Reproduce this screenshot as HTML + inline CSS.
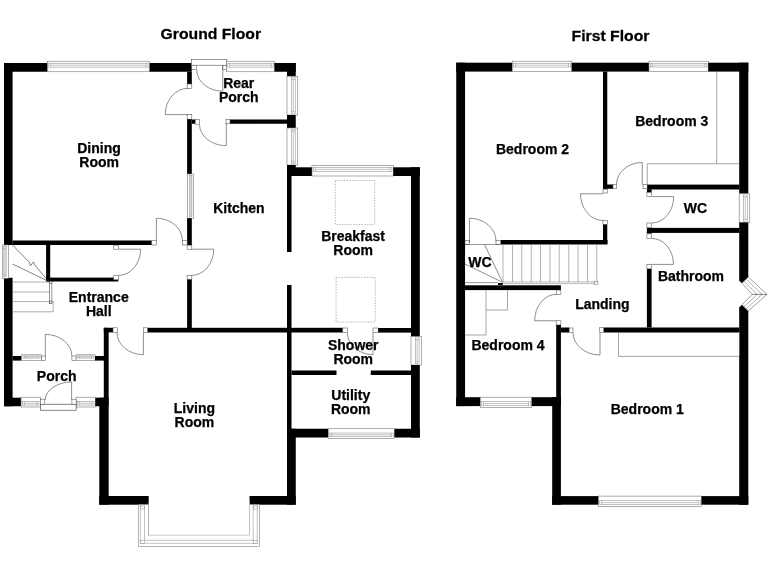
<!DOCTYPE html>
<html lang="en">
<head>
<meta charset="utf-8">
<title>Floor Plan</title>
<style>
html,body{margin:0;padding:0;background:#fff;}
body{width:768px;height:576px;overflow:hidden;}
svg{display:block;opacity:0.999;will-change:transform;}
svg text{font-family:"Liberation Sans",sans-serif;font-weight:bold;fill:#000;stroke:#000;stroke-width:0.25px;text-anchor:middle;}
</style>
</head>
<body>
<svg width="768" height="576" viewBox="0 0 768 576">
<rect x="0" y="0" width="768" height="576" fill="#fff"/>
<rect x="4" y="63" width="8.6" height="182" fill="#000"/>
<rect x="4" y="277.8" width="8.6" height="128.45" fill="#000"/>
<rect x="4" y="63" width="43.5" height="8.75" fill="#000"/>
<rect x="149.25" y="63" width="42.55" height="8.75" fill="#000"/>
<rect x="47.5" y="61.25" width="101.75" height="10.5" fill="#fff" stroke="#777" stroke-width="0.6"/>
<rect x="48.8" y="63.35" width="99.15" height="3.78" fill="#fff" stroke="#777" stroke-width="0.45"/>
<line x1="50.7" y1="65.24" x2="146.05" y2="65.24" stroke="#777" stroke-width="0.45"/>
<line x1="50.7" y1="63.35" x2="50.7" y2="67.13" stroke="#777" stroke-width="0.45"/>
<line x1="146.05" y1="63.35" x2="146.05" y2="67.13" stroke="#777" stroke-width="0.45"/>
<rect x="191.3" y="59.4" width="35.5" height="5.8" fill="#fff" stroke="#555" stroke-width="0.6"/>
<rect x="191.8" y="65.3" width="4.9" height="4.4" fill="#fff" stroke="#555" stroke-width="0.55"/>
<rect x="222.75" y="65.3" width="3.95" height="4.4" fill="#fff" stroke="#555" stroke-width="0.55"/>
<rect x="226.5" y="61.25" width="48.0" height="10.5" fill="#fff" stroke="#777" stroke-width="0.6"/>
<rect x="227.8" y="63.35" width="45.4" height="3.78" fill="#fff" stroke="#777" stroke-width="0.45"/>
<line x1="229.7" y1="65.24" x2="271.3" y2="65.24" stroke="#777" stroke-width="0.45"/>
<line x1="229.7" y1="63.35" x2="229.7" y2="67.13" stroke="#777" stroke-width="0.45"/>
<line x1="271.3" y1="63.35" x2="271.3" y2="67.13" stroke="#777" stroke-width="0.45"/>
<rect x="274.5" y="63" width="21.25" height="8.75" fill="#000"/>
<rect x="287" y="63" width="8.75" height="13.25" fill="#000"/>
<rect x="287" y="76.25" width="10.75" height="38.75" fill="#fff" stroke="#777" stroke-width="0.6"/>
<rect x="291.3" y="77.55" width="3.87" height="36.15" fill="#fff" stroke="#777" stroke-width="0.45"/>
<line x1="293.235" y1="79.45" x2="293.235" y2="111.8" stroke="#777" stroke-width="0.45"/>
<line x1="291.3" y1="79.45" x2="295.17" y2="79.45" stroke="#777" stroke-width="0.45"/>
<line x1="291.3" y1="111.8" x2="295.17" y2="111.8" stroke="#777" stroke-width="0.45"/>
<rect x="287" y="115" width="8.75" height="13" fill="#000"/>
<rect x="287" y="128" width="10.75" height="37" fill="#fff" stroke="#777" stroke-width="0.6"/>
<rect x="291.3" y="129.3" width="3.87" height="34.4" fill="#fff" stroke="#777" stroke-width="0.45"/>
<line x1="293.235" y1="131.2" x2="293.235" y2="161.8" stroke="#777" stroke-width="0.45"/>
<line x1="291.3" y1="131.2" x2="295.17" y2="131.2" stroke="#777" stroke-width="0.45"/>
<line x1="291.3" y1="161.8" x2="295.17" y2="161.8" stroke="#777" stroke-width="0.45"/>
<rect x="287" y="165" width="8.75" height="10.75" fill="#000"/>
<rect x="230" y="119.5" width="57" height="4.25" fill="#000"/>
<rect x="226" y="119.5" width="4" height="4.25" fill="#fff" stroke="#555" stroke-width="0.55"/>
<rect x="187.1" y="71.75" width="4.7" height="12.25" fill="#000"/>
<rect x="187.1" y="84" width="4.7" height="4.3" fill="#fff" stroke="#555" stroke-width="0.55"/>
<rect x="187.1" y="114.6" width="4.7" height="4.6" fill="#fff" stroke="#555" stroke-width="0.55"/>
<rect x="187.1" y="119.2" width="4.7" height="54.8" fill="#000"/>
<rect x="191.8" y="119.5" width="3.5" height="4.25" fill="#000"/>
<rect x="195.3" y="119.5" width="4.2" height="4.7" fill="#fff" stroke="#555" stroke-width="0.55"/>
<rect x="187.4" y="174" width="5.9" height="44.2" fill="#fff" stroke="#777" stroke-width="0.6"/>
<rect x="189.76000000000002" y="175.3" width="2.12" height="41.6" fill="#fff" stroke="#777" stroke-width="0.45"/>
<line x1="190.822" y1="177.2" x2="190.822" y2="215.0" stroke="#777" stroke-width="0.45"/>
<line x1="189.76000000000002" y1="177.2" x2="191.88400000000001" y2="177.2" stroke="#777" stroke-width="0.45"/>
<line x1="189.76000000000002" y1="215.0" x2="191.88400000000001" y2="215.0" stroke="#777" stroke-width="0.45"/>
<rect x="187.1" y="218.2" width="4.7" height="27.0" fill="#000"/>
<rect x="187.1" y="245.2" width="4.7" height="4.1" fill="#fff" stroke="#555" stroke-width="0.55"/>
<rect x="187.1" y="275.5" width="4.7" height="4.0" fill="#fff" stroke="#555" stroke-width="0.55"/>
<rect x="187.1" y="279.5" width="4.7" height="52.5" fill="#000"/>
<line x1="222.75" y1="65.3" x2="222.75" y2="91.2" stroke="#444" stroke-width="0.6"/>
<path d="M222.75 91.2 A26.05 21.5 0 0 1 196.7 69.7" fill="none" stroke="#444" stroke-width="0.6"/>
<line x1="188" y1="114.6" x2="165.2" y2="114.6" stroke="#444" stroke-width="0.6"/>
<path d="M165.2 114.6 A22.8 26.3 0 0 1 188 88.3" fill="none" stroke="#444" stroke-width="0.6"/>
<line x1="226.3" y1="123.75" x2="226.3" y2="145.7" stroke="#444" stroke-width="0.6"/>
<path d="M226.3 145.7 A26.8 21.5 0 0 1 199.5 124.2" fill="none" stroke="#444" stroke-width="0.6"/>
<rect x="12.5" y="240.5" width="139.25" height="4.5" fill="#000"/>
<rect x="151.75" y="240.5" width="4.5" height="4.5" fill="#fff" stroke="#555" stroke-width="0.55"/>
<rect x="182.4" y="240.5" width="4.7" height="4.5" fill="#fff" stroke="#555" stroke-width="0.55"/>
<line x1="156.4" y1="240.5" x2="156.4" y2="218.2" stroke="#444" stroke-width="0.6"/>
<path d="M156.4 218.2 A26.0 22.3 0 0 1 182.4 240.5" fill="none" stroke="#444" stroke-width="0.6"/>
<line x1="191.6" y1="249.2" x2="213.75" y2="249.2" stroke="#444" stroke-width="0.6"/>
<path d="M213.75 249.2 A22.15 26.2 0 0 1 191.6 275.4" fill="none" stroke="#444" stroke-width="0.6"/>
<rect x="2.4" y="245" width="6.2" height="33.3" fill="#fff" stroke="#777" stroke-width="0.6"/>
<rect x="3.888" y="246.3" width="2.23" height="30.7" fill="#fff" stroke="#777" stroke-width="0.45"/>
<line x1="5.004" y1="248.2" x2="5.004" y2="275.1" stroke="#777" stroke-width="0.45"/>
<line x1="3.888" y1="248.2" x2="6.119999999999999" y2="248.2" stroke="#777" stroke-width="0.45"/>
<line x1="3.888" y1="275.1" x2="6.119999999999999" y2="275.1" stroke="#777" stroke-width="0.45"/>
<rect x="46.1" y="245" width="4.1" height="36.3" fill="#000"/>
<rect x="46.1" y="277.6" width="72.2" height="3.9" fill="#000"/>
<rect x="113.75" y="245.2" width="4.85" height="4.0" fill="#fff" stroke="#555" stroke-width="0.55"/>
<rect x="113.75" y="275.4" width="4.85" height="4.4" fill="#fff" stroke="#555" stroke-width="0.55"/>
<line x1="118.6" y1="249.2" x2="140.6" y2="249.2" stroke="#444" stroke-width="0.6"/>
<path d="M140.6 249.2 A22.0 26.2 0 0 1 118.6 275.4" fill="none" stroke="#444" stroke-width="0.6"/>
<path d="M12.5 245 L28.9 261.8 L30.5 265.7 L33.6 261.8 L34.7 264.9 L48.4 281.3" fill="none" stroke="#333" stroke-width="0.6"/>
<line x1="12.5" y1="264" x2="48.4" y2="281.3" stroke="#333" stroke-width="0.6"/>
<line x1="12.5" y1="282" x2="50" y2="282" stroke="#777" stroke-width="0.6"/>
<line x1="12.5" y1="292" x2="50" y2="292" stroke="#777" stroke-width="0.6"/>
<line x1="12.5" y1="301.6" x2="50" y2="301.6" stroke="#777" stroke-width="0.6"/>
<line x1="12.5" y1="311.8" x2="53.2" y2="311.8" stroke="#777" stroke-width="0.6"/>
<rect x="49.7" y="281.3" width="2.2" height="21.9" fill="#fff" stroke="#333" stroke-width="0.5"/>
<rect x="49.7" y="281.3" width="2.2" height="2.3" fill="#fff" stroke="#333" stroke-width="0.5"/>
<rect x="49.7" y="301" width="2.2" height="2.2" fill="#fff" stroke="#333" stroke-width="0.5"/>
<path d="M51.9 301.6 L53.2 301.6 L53.2 311.8" fill="none" stroke="#777" stroke-width="0.6"/>
<rect x="103.8" y="327.8" width="4.85" height="70.2" fill="#000"/>
<rect x="99.3" y="397.7" width="9.35" height="107.0" fill="#000"/>
<rect x="103.8" y="327.8" width="9.2" height="4.6" fill="#000"/>
<rect x="113" y="327.8" width="4.3" height="4.6" fill="#fff" stroke="#555" stroke-width="0.55"/>
<rect x="143.4" y="327.8" width="4.3" height="4.6" fill="#fff" stroke="#555" stroke-width="0.55"/>
<rect x="147.7" y="327.8" width="195.1" height="4.7" fill="#000"/>
<line x1="143.4" y1="332.4" x2="143.4" y2="354.7" stroke="#444" stroke-width="0.6"/>
<path d="M143.4 354.7 A26.4 22.3 0 0 1 117 332.4" fill="none" stroke="#444" stroke-width="0.6"/>
<rect x="99.3" y="496" width="49.4" height="8.7" fill="#000"/>
<rect x="249.5" y="496" width="46.25" height="8.7" fill="#000"/>
<rect x="287" y="428.75" width="8.75" height="75.95" fill="#000"/>
<rect x="287" y="165" width="4.5" height="87" fill="#000"/>
<rect x="287" y="285" width="4.5" height="152" fill="#000"/>
<rect x="138.25" y="504.5" width="121.15" height="41.9" fill="#fff" stroke="#777" stroke-width="0.55"/>
<rect x="148.5" y="503" width="101.2" height="32" fill="#fff" stroke="#777" stroke-width="0.55"/>
<rect x="149" y="500" width="100.2" height="34.6" fill="#fff"/>
<line x1="140.4" y1="504.7" x2="140.4" y2="543.3" stroke="#777" stroke-width="0.45"/>
<line x1="144.5" y1="504.7" x2="144.5" y2="540.3" stroke="#777" stroke-width="0.45"/>
<line x1="257.2" y1="504.7" x2="257.2" y2="543.3" stroke="#777" stroke-width="0.45"/>
<line x1="253.2" y1="504.7" x2="253.2" y2="540.3" stroke="#777" stroke-width="0.45"/>
<line x1="140.4" y1="543.3" x2="257.2" y2="543.3" stroke="#777" stroke-width="0.45"/>
<line x1="144.5" y1="540.3" x2="253.2" y2="540.3" stroke="#777" stroke-width="0.45"/>
<rect x="140.4" y="506" width="4.1" height="3" fill="#fff" stroke="#777" stroke-width="0.45"/>
<rect x="253.2" y="506" width="4.0" height="3" fill="#fff" stroke="#777" stroke-width="0.45"/>
<rect x="140.4" y="540.3" width="4.1" height="3.0" fill="#fff" stroke="#777" stroke-width="0.45"/>
<rect x="253.2" y="540.3" width="4.0" height="3.0" fill="#fff" stroke="#777" stroke-width="0.45"/>
<rect x="12.5" y="356" width="9.1" height="4.6" fill="#000"/>
<rect x="21.6" y="354.8" width="19.8" height="5.8" fill="#fff" stroke="#777" stroke-width="0.6"/>
<rect x="22.900000000000002" y="355.96000000000004" width="17.2" height="2.09" fill="#fff" stroke="#777" stroke-width="0.45"/>
<line x1="24.8" y1="357.004" x2="38.199999999999996" y2="357.004" stroke="#777" stroke-width="0.45"/>
<line x1="24.8" y1="355.96000000000004" x2="24.8" y2="358.048" stroke="#777" stroke-width="0.45"/>
<line x1="38.199999999999996" y1="355.96000000000004" x2="38.199999999999996" y2="358.048" stroke="#777" stroke-width="0.45"/>
<rect x="41.4" y="356" width="3.9" height="4.6" fill="#fff" stroke="#555" stroke-width="0.55"/>
<rect x="71.9" y="356" width="4.2" height="4.6" fill="#fff" stroke="#555" stroke-width="0.55"/>
<rect x="76.1" y="354.8" width="18.9" height="5.8" fill="#fff" stroke="#777" stroke-width="0.6"/>
<rect x="77.39999999999999" y="355.96000000000004" width="16.3" height="2.09" fill="#fff" stroke="#777" stroke-width="0.45"/>
<line x1="79.3" y1="357.004" x2="91.8" y2="357.004" stroke="#777" stroke-width="0.45"/>
<line x1="79.3" y1="355.96000000000004" x2="79.3" y2="358.048" stroke="#777" stroke-width="0.45"/>
<line x1="91.8" y1="355.96000000000004" x2="91.8" y2="358.048" stroke="#777" stroke-width="0.45"/>
<rect x="95" y="356" width="9" height="4.6" fill="#000"/>
<line x1="45.3" y1="356" x2="45.3" y2="334.4" stroke="#444" stroke-width="0.6"/>
<path d="M45.3 334.4 A26.6 21.6 0 0 1 71.9 356" fill="none" stroke="#444" stroke-width="0.6"/>
<rect x="4" y="397.7" width="17.1" height="8.55" fill="#000"/>
<rect x="21.1" y="397.2" width="19.2" height="9.8" fill="#fff" stroke="#777" stroke-width="0.6"/>
<rect x="22.400000000000002" y="401.512" width="16.6" height="3.53" fill="#fff" stroke="#777" stroke-width="0.45"/>
<line x1="24.3" y1="403.276" x2="37.099999999999994" y2="403.276" stroke="#777" stroke-width="0.45"/>
<line x1="24.3" y1="401.512" x2="24.3" y2="405.04" stroke="#777" stroke-width="0.45"/>
<line x1="37.099999999999994" y1="401.512" x2="37.099999999999994" y2="405.04" stroke="#777" stroke-width="0.45"/>
<rect x="76.1" y="397.2" width="19.2" height="9.8" fill="#fff" stroke="#777" stroke-width="0.6"/>
<rect x="77.39999999999999" y="401.512" width="16.6" height="3.53" fill="#fff" stroke="#777" stroke-width="0.45"/>
<line x1="79.3" y1="403.276" x2="92.1" y2="403.276" stroke="#777" stroke-width="0.45"/>
<line x1="79.3" y1="401.512" x2="79.3" y2="405.04" stroke="#777" stroke-width="0.45"/>
<line x1="92.1" y1="401.512" x2="92.1" y2="405.04" stroke="#777" stroke-width="0.45"/>
<rect x="95.3" y="397.7" width="13.35" height="8.55" fill="#000"/>
<rect x="40.3" y="404.2" width="35.8" height="6.0" fill="#fff" stroke="#333" stroke-width="0.6"/>
<rect x="40.3" y="399.2" width="4.2" height="5.0" fill="#fff" stroke="#555" stroke-width="0.55"/>
<rect x="71.9" y="399.2" width="4.2" height="5.0" fill="#fff" stroke="#555" stroke-width="0.55"/>
<line x1="71.6" y1="400" x2="71.6" y2="382" stroke="#444" stroke-width="0.6"/>
<path d="M71.6 382 A26.3 18 0 0 0 45.3 400" fill="none" stroke="#444" stroke-width="0.6"/>
<rect x="287" y="167.3" width="25" height="8.7" fill="#000"/>
<rect x="312" y="165.3" width="81.25" height="10.7" fill="#fff" stroke="#777" stroke-width="0.6"/>
<rect x="313.3" y="167.44" width="78.65" height="3.85" fill="#fff" stroke="#777" stroke-width="0.45"/>
<line x1="315.2" y1="169.36599999999999" x2="390.05" y2="169.36599999999999" stroke="#777" stroke-width="0.45"/>
<line x1="315.2" y1="167.44" x2="315.2" y2="171.292" stroke="#777" stroke-width="0.45"/>
<line x1="390.05" y1="167.44" x2="390.05" y2="171.292" stroke="#777" stroke-width="0.45"/>
<rect x="393.25" y="167.3" width="26.55" height="8.7" fill="#000"/>
<rect x="411" y="167.3" width="8.8" height="169.3" fill="#000"/>
<rect x="411" y="336.6" width="10.6" height="28.4" fill="#fff" stroke="#777" stroke-width="0.6"/>
<rect x="415.24" y="337.90000000000003" width="3.82" height="25.8" fill="#fff" stroke="#777" stroke-width="0.45"/>
<line x1="417.148" y1="339.8" x2="417.148" y2="361.8" stroke="#777" stroke-width="0.45"/>
<line x1="415.24" y1="339.8" x2="419.05600000000004" y2="339.8" stroke="#777" stroke-width="0.45"/>
<line x1="415.24" y1="361.8" x2="419.05600000000004" y2="361.8" stroke="#777" stroke-width="0.45"/>
<rect x="411" y="365" width="8.8" height="72.5" fill="#000"/>
<rect x="335.3" y="180.5" width="39.39999999999998" height="44.099999999999994" fill="none" stroke="#666" stroke-width="0.5" stroke-dasharray="1.4 1.4"/>
<rect x="336.1" y="277.4" width="39.099999999999966" height="44.60000000000002" fill="none" stroke="#666" stroke-width="0.5" stroke-dasharray="1.4 1.4"/>
<rect x="342.8" y="328" width="4.6" height="4.6" fill="#fff" stroke="#555" stroke-width="0.55"/>
<rect x="373" y="328" width="5.2" height="4.6" fill="#fff" stroke="#555" stroke-width="0.55"/>
<rect x="378.2" y="328" width="32.8" height="4.6" fill="#000"/>
<line x1="373" y1="332.6" x2="373" y2="354.6" stroke="#444" stroke-width="0.6"/>
<path d="M373 354.6 A25.6 22.0 0 0 1 347.4 332.6" fill="none" stroke="#444" stroke-width="0.6"/>
<rect x="291.5" y="370.5" width="45.0" height="4.5" fill="#000"/>
<rect x="370.75" y="370.5" width="40.25" height="4.5" fill="#000"/>
<rect x="287" y="428.75" width="41.25" height="8.75" fill="#000"/>
<rect x="328.25" y="428.75" width="66.25" height="9.75" fill="#fff" stroke="#777" stroke-width="0.6"/>
<rect x="329.55" y="433.04" width="63.65" height="3.51" fill="#fff" stroke="#777" stroke-width="0.45"/>
<line x1="331.45" y1="434.795" x2="391.3" y2="434.795" stroke="#777" stroke-width="0.45"/>
<line x1="331.45" y1="433.04" x2="331.45" y2="436.55" stroke="#777" stroke-width="0.45"/>
<line x1="391.3" y1="433.04" x2="391.3" y2="436.55" stroke="#777" stroke-width="0.45"/>
<rect x="394.5" y="428.75" width="25.3" height="8.75" fill="#000"/>
<rect x="456.25" y="62.7" width="8.8" height="343.4" fill="#000"/>
<rect x="456.25" y="62.7" width="56.05" height="8.9" fill="#000"/>
<rect x="512.3" y="61.2" width="59.45" height="10.4" fill="#fff" stroke="#777" stroke-width="0.6"/>
<rect x="513.5999999999999" y="63.28" width="56.85" height="3.74" fill="#fff" stroke="#777" stroke-width="0.45"/>
<line x1="515.5" y1="65.152" x2="568.55" y2="65.152" stroke="#777" stroke-width="0.45"/>
<line x1="515.5" y1="63.28" x2="515.5" y2="67.024" stroke="#777" stroke-width="0.45"/>
<line x1="568.55" y1="63.28" x2="568.55" y2="67.024" stroke="#777" stroke-width="0.45"/>
<rect x="571.75" y="62.7" width="77.25" height="8.9" fill="#000"/>
<rect x="649" y="61.2" width="59.2" height="10.4" fill="#fff" stroke="#777" stroke-width="0.6"/>
<rect x="650.3" y="63.28" width="56.6" height="3.74" fill="#fff" stroke="#777" stroke-width="0.45"/>
<line x1="652.2" y1="65.152" x2="705.0" y2="65.152" stroke="#777" stroke-width="0.45"/>
<line x1="652.2" y1="63.28" x2="652.2" y2="67.024" stroke="#777" stroke-width="0.45"/>
<line x1="705.0" y1="63.28" x2="705.0" y2="67.024" stroke="#777" stroke-width="0.45"/>
<rect x="708.2" y="62.7" width="40.1" height="8.9" fill="#000"/>
<rect x="739.2" y="62.7" width="9.1" height="131.05" fill="#000"/>
<rect x="739.2" y="193.75" width="10.55" height="28.75" fill="#fff" stroke="#777" stroke-width="0.6"/>
<rect x="743.4200000000001" y="195.05" width="3.8" height="26.15" fill="#fff" stroke="#777" stroke-width="0.45"/>
<line x1="745.319" y1="196.95" x2="745.319" y2="219.3" stroke="#777" stroke-width="0.45"/>
<line x1="743.4200000000001" y1="196.95" x2="747.218" y2="196.95" stroke="#777" stroke-width="0.45"/>
<line x1="743.4200000000001" y1="219.3" x2="747.218" y2="219.3" stroke="#777" stroke-width="0.45"/>
<polygon points="739.2,222.5 748.3,222.5 748.3,277 742,283.3 739.2,280.7" fill="#000"/>
<polygon points="739.2,307.2 742,304.8 748.3,310.9 748.3,504.7 739.2,504.7" fill="#000"/>
<path d="M742 283.3 L748.3 277 L767 294.4 L748.3 310.9 L742 304.8 L752.2 294.4 Z" fill="#fff" stroke="#555" stroke-width="0.55"/>
<path d="M744 281.2 L757.1 294.4 L744 306.8" fill="none" stroke="#333" stroke-width="0.4"/>
<path d="M746.1 279.1 L762 294.4 L746.1 308.9" fill="none" stroke="#333" stroke-width="0.4"/>
<path d="M752.2 294.4 L767 294.4" fill="none" stroke="#333" stroke-width="0.6"/>
<rect x="603" y="71.6" width="4.25" height="117.15" fill="#000"/>
<rect x="603" y="184.5" width="10" height="4.25" fill="#000"/>
<rect x="613" y="184.5" width="3.5" height="4.25" fill="#fff" stroke="#555" stroke-width="0.55"/>
<rect x="643" y="184.5" width="4.25" height="4.25" fill="#fff" stroke="#555" stroke-width="0.55"/>
<rect x="647.25" y="184.6" width="92.05" height="4.9" fill="#000"/>
<line x1="642.25" y1="184.5" x2="642.25" y2="162.5" stroke="#444" stroke-width="0.6"/>
<path d="M642.25 162.5 A25.75 22.0 0 0 0 616.5 184.5" fill="none" stroke="#444" stroke-width="0.6"/>
<line x1="716.7" y1="71.6" x2="716.7" y2="163.75" stroke="#777" stroke-width="0.65"/>
<line x1="647.25" y1="163.75" x2="739.3" y2="163.75" stroke="#777" stroke-width="0.65"/>
<line x1="647.25" y1="163.75" x2="647.25" y2="184.5" stroke="#777" stroke-width="0.65"/>
<rect x="646.9" y="189.25" width="4.7" height="3.25" fill="#000"/>
<rect x="646.9" y="192.5" width="4.7" height="4.2" fill="#fff" stroke="#555" stroke-width="0.55"/>
<rect x="646.9" y="223" width="4.7" height="4.8" fill="#fff" stroke="#555" stroke-width="0.55"/>
<rect x="646.9" y="227.9" width="92.4" height="5.0" fill="#000"/>
<rect x="646.9" y="232" width="4.7" height="1.8" fill="#000"/>
<rect x="646.9" y="233.8" width="4.7" height="4.6" fill="#fff" stroke="#555" stroke-width="0.55"/>
<line x1="651.6" y1="196.6" x2="673.7" y2="196.6" stroke="#444" stroke-width="0.6"/>
<path d="M673.7 196.6 A22.1 26.4 0 0 1 651.6 223" fill="none" stroke="#444" stroke-width="0.6"/>
<line x1="651.6" y1="264.4" x2="673.5" y2="264.4" stroke="#444" stroke-width="0.6"/>
<path d="M673.5 264.4 A21.9 26.0 0 0 0 651.6 238.4" fill="none" stroke="#444" stroke-width="0.6"/>
<rect x="646.9" y="264.6" width="4.7" height="4.3" fill="#fff" stroke="#555" stroke-width="0.55"/>
<rect x="646.9" y="268.9" width="4.7" height="58.6" fill="#000"/>
<rect x="603.5" y="327.5" width="135.8" height="5.0" fill="#000"/>
<rect x="599.75" y="327.5" width="3.75" height="5.0" fill="#fff" stroke="#555" stroke-width="0.55"/>
<rect x="618.5" y="332.5" width="120.8" height="23.75" fill="none" stroke="#777" stroke-width="0.65"/>
<rect x="603" y="189.25" width="4.25" height="3.75" fill="#fff" stroke="#555" stroke-width="0.55"/>
<rect x="603" y="220.5" width="4.25" height="4.0" fill="#fff" stroke="#555" stroke-width="0.55"/>
<rect x="603" y="224.5" width="4.25" height="19.25" fill="#000"/>
<line x1="603" y1="193.75" x2="580.5" y2="193.75" stroke="#444" stroke-width="0.6"/>
<path d="M580.5 193.75 A22.5 26.75 0 0 0 603 220.5" fill="none" stroke="#444" stroke-width="0.6"/>
<rect x="500.5" y="240" width="107.0" height="4.5" fill="#000"/>
<rect x="496" y="240.5" width="4.5" height="4.0" fill="#fff" stroke="#555" stroke-width="0.55"/>
<rect x="465.05" y="240.4" width="4.55" height="4.2" fill="#fff" stroke="#555" stroke-width="0.55"/>
<line x1="469.4" y1="243" x2="469.4" y2="218.2" stroke="#444" stroke-width="0.6"/>
<path d="M469.4 218.2 A26.6 22.8 0 0 1 496 241" fill="none" stroke="#444" stroke-width="0.6"/>
<line x1="465.05" y1="244.5" x2="500.5" y2="244.5" stroke="#333" stroke-width="0.5"/>
<line x1="465.05" y1="264" x2="502.6" y2="282.4" stroke="#333" stroke-width="0.55"/>
<line x1="484.5" y1="244.5" x2="502.6" y2="282.4" stroke="#333" stroke-width="0.55"/>
<line x1="465.05" y1="282.6" x2="498" y2="282.6" stroke="#333" stroke-width="0.5"/>
<line x1="503" y1="244.5" x2="503" y2="282" stroke="#777" stroke-width="0.55"/>
<line x1="512.5" y1="244.5" x2="512.5" y2="282" stroke="#777" stroke-width="0.55"/>
<line x1="521.75" y1="244.5" x2="521.75" y2="282" stroke="#777" stroke-width="0.55"/>
<line x1="531.25" y1="244.5" x2="531.25" y2="282" stroke="#777" stroke-width="0.55"/>
<line x1="540.5" y1="244.5" x2="540.5" y2="282" stroke="#777" stroke-width="0.55"/>
<line x1="550" y1="244.5" x2="550" y2="282" stroke="#777" stroke-width="0.55"/>
<line x1="559.25" y1="244.5" x2="559.25" y2="282" stroke="#777" stroke-width="0.55"/>
<line x1="568.75" y1="244.5" x2="568.75" y2="282" stroke="#777" stroke-width="0.55"/>
<line x1="578" y1="244.5" x2="578" y2="282" stroke="#777" stroke-width="0.55"/>
<line x1="587.5" y1="244.5" x2="587.5" y2="282" stroke="#777" stroke-width="0.55"/>
<line x1="596.75" y1="244.5" x2="596.75" y2="282" stroke="#777" stroke-width="0.55"/>
<line x1="503" y1="281.9" x2="596" y2="281.9" stroke="#777" stroke-width="0.5"/>
<line x1="498" y1="283.6" x2="596" y2="283.6" stroke="#777" stroke-width="0.5"/>
<rect x="594.7" y="281.2" width="3.2" height="3.0" fill="#fff" stroke="#666" stroke-width="0.5"/>
<rect x="465.05" y="285.3" width="95.85" height="4.8" fill="#000"/>
<rect x="498" y="283" width="4.7" height="2" fill="#000"/>
<rect x="556.2" y="290.1" width="4.7" height="4.2" fill="#fff" stroke="#555" stroke-width="0.55"/>
<rect x="556.2" y="320.75" width="4.7" height="4.25" fill="#fff" stroke="#555" stroke-width="0.55"/>
<rect x="556.2" y="325" width="4.7" height="81.1" fill="#000"/>
<rect x="560.9" y="327.5" width="8.35" height="5.0" fill="#000"/>
<rect x="569.25" y="328" width="3.75" height="4.5" fill="#fff" stroke="#555" stroke-width="0.55"/>
<line x1="556.4" y1="320.75" x2="534.7" y2="320.75" stroke="#444" stroke-width="0.6"/>
<path d="M534.7 320.75 A21.7 26.45 0 0 1 556.4 294.3" fill="none" stroke="#444" stroke-width="0.6"/>
<line x1="600" y1="332.5" x2="600" y2="355" stroke="#444" stroke-width="0.6"/>
<path d="M600 355 A27 22.5 0 0 1 573 332.5" fill="none" stroke="#444" stroke-width="0.6"/>
<line x1="486" y1="290" x2="486" y2="335" stroke="#777" stroke-width="0.65"/>
<line x1="465.05" y1="335" x2="486" y2="335" stroke="#777" stroke-width="0.65"/>
<line x1="486" y1="310" x2="507.5" y2="310" stroke="#777" stroke-width="0.65"/>
<line x1="507.5" y1="290" x2="507.5" y2="310" stroke="#777" stroke-width="0.65"/>
<rect x="456.25" y="397.2" width="24.05" height="8.9" fill="#000"/>
<rect x="480.3" y="397.2" width="51.45" height="10.3" fill="#fff" stroke="#777" stroke-width="0.6"/>
<rect x="481.6" y="401.73199999999997" width="48.85" height="3.71" fill="#fff" stroke="#777" stroke-width="0.45"/>
<line x1="483.5" y1="403.586" x2="528.55" y2="403.586" stroke="#777" stroke-width="0.45"/>
<line x1="483.5" y1="401.73199999999997" x2="483.5" y2="405.44" stroke="#777" stroke-width="0.45"/>
<line x1="528.55" y1="401.73199999999997" x2="528.55" y2="405.44" stroke="#777" stroke-width="0.45"/>
<rect x="531.75" y="397.2" width="29.15" height="8.9" fill="#000"/>
<rect x="552.2" y="397.2" width="8.7" height="107.5" fill="#000"/>
<rect x="552.2" y="496.1" width="46.55" height="8.6" fill="#000"/>
<rect x="598.5" y="496.1" width="103.0" height="10.5" fill="#fff" stroke="#777" stroke-width="0.6"/>
<rect x="599.8" y="500.72" width="100.4" height="3.78" fill="#fff" stroke="#777" stroke-width="0.45"/>
<line x1="601.7" y1="502.61" x2="698.3" y2="502.61" stroke="#777" stroke-width="0.45"/>
<line x1="601.7" y1="500.72" x2="601.7" y2="504.5" stroke="#777" stroke-width="0.45"/>
<line x1="698.3" y1="500.72" x2="698.3" y2="504.5" stroke="#777" stroke-width="0.45"/>
<rect x="701.5" y="496.1" width="46.8" height="8.6" fill="#000"/>
<text transform="translate(210.8 39.1) scale(1.03 1)" font-size="15.3">Ground Floor</text>
<text transform="translate(610.5 41.0) scale(1.03 1)" font-size="15.3">First Floor</text>
<text x="99" y="152.7" font-size="14">Dining</text>
<text x="99.2" y="167" font-size="14">Room</text>
<text x="238.75" y="88.0" font-size="14">Rear</text>
<text x="238.75" y="102.1" font-size="14">Porch</text>
<text x="238.9" y="212.6" font-size="14">Kitchen</text>
<text x="353.1" y="240.5" font-size="14">Breakfast</text>
<text x="353.2" y="254.7" font-size="14">Room</text>
<text x="98.75" y="301.7" font-size="14">Entrance</text>
<text x="98.75" y="315.8" font-size="14">Hall</text>
<text x="56.7" y="381.2" font-size="14">Porch</text>
<text x="194.4" y="412.8" font-size="14">Living</text>
<text x="194.4" y="427.3" font-size="14">Room</text>
<text x="353.25" y="350.0" font-size="14">Shower</text>
<text x="353.25" y="364.1" font-size="14">Room</text>
<text x="350.75" y="399.6" font-size="14">Utility</text>
<text x="350.75" y="414.3" font-size="14">Room</text>
<text x="532.5" y="153.5" font-size="14">Bedroom 2</text>
<text x="671.75" y="125.6" font-size="14">Bedroom 3</text>
<text x="695.5" y="212.5" font-size="14">WC</text>
<text x="480" y="267.0" font-size="14">WC</text>
<text x="691" y="280.8" font-size="14">Bathroom</text>
<text x="602.4" y="308.5" font-size="14">Landing</text>
<text x="508" y="349.7" font-size="14">Bedroom 4</text>
<text x="647.25" y="413.5" font-size="14">Bedroom 1</text>
</svg>
</body>
</html>
